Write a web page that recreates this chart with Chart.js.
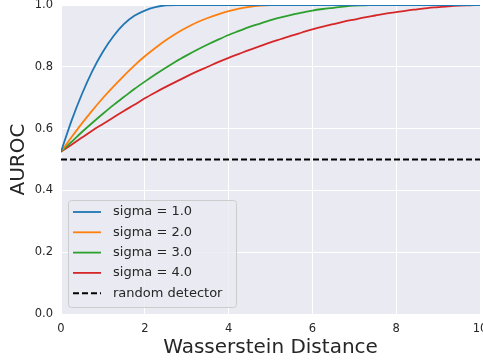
<!DOCTYPE html>
<html>
<head>
  <meta charset="utf-8">
  <title>AUROC vs Wasserstein Distance</title>
  <script src="https://cdn.jsdelivr.net/npm/chart.js"></script>
  <style>
    body {
      margin: 0;
      padding: 0;
      background-color: #fff;
      font-family: "DejaVu Sans", sans-serif;
    }
    .chart-container {
      width: 483px;
      height: 364px;
    }
  </style>
</head>
<body>
  <div class="chart-container">
    <canvas id="aurocChart"></canvas>
  </div>

  <script>
    // ----- Data -----
    const distances = [0, 0.25, 0.5, 0.75, 1, 1.25, 1.5, 1.75, 2, 2.25, 2.5, 2.75, 3, 3.25, 3.5, 3.75,
      4, 4.25, 4.5, 4.75, 5, 5.25, 5.5, 5.75, 6, 6.25, 6.5, 6.75, 7, 7.25, 7.5, 7.75,
      8, 8.25, 8.5, 8.75, 9, 9.25, 9.5, 9.75, 10];

    const sigma1 = [0.525, 0.625, 0.712, 0.787, 0.849, 0.899, 0.938, 0.965, 0.982, 0.993, 0.999, 1, 1, 1, 1, 1,
      1, 1, 1, 1, 1, 1, 1, 1, 1, 1, 1, 1, 1, 1, 1, 1,
      1, 1, 1, 1, 1, 1, 1, 1, 1];
    const sigma2 = [0.525, 0.572, 0.617, 0.659, 0.699, 0.736, 0.771, 0.804, 0.834, 0.861, 0.886, 0.908, 0.927, 0.944, 0.958, 0.970,
      0.980, 0.988, 0.994, 0.998, 1, 1, 1, 1, 1, 1, 1, 1, 1, 1, 1, 1,
      1, 1, 1, 1, 1, 1, 1, 1, 1];
    const sigma3 = [0.525, 0.557, 0.589, 0.619, 0.648, 0.676, 0.702, 0.728, 0.752, 0.775, 0.797, 0.818, 0.837, 0.855, 0.872, 0.888,
      0.903, 0.916, 0.929, 0.940, 0.951, 0.960, 0.968, 0.975, 0.982, 0.987, 0.991, 0.995, 0.998, 0.999, 1, 1,
      1, 1, 1, 1, 1, 1, 1, 1, 1];
    const sigma4 = [0.525, 0.548, 0.571, 0.594, 0.615, 0.636, 0.657, 0.677, 0.698, 0.717, 0.735, 0.752, 0.769, 0.785, 0.800, 0.815,
      0.829, 0.842, 0.855, 0.867, 0.879, 0.890, 0.901, 0.911, 0.921, 0.930, 0.938, 0.946, 0.953, 0.960, 0.966, 0.972,
      0.977, 0.982, 0.986, 0.990, 0.993, 0.996, 0.998, 0.999, 1];
    const randomLevel = 0.5;

    const seriesLabels = ["sigma = 1.0", "sigma = 2.0", "sigma = 3.0", "sigma = 4.0", "random detector"];
    const seriesColors = ["#1f77b4", "#ff7f0e", "#2ca02c", "#d62728", "#000000"];
    const xTicks = [0, 2, 4, 6, 8, 10];
    const yTicks = [0, 0.2, 0.4, 0.6, 0.8, 1.0];

    const toPoints = (ys) => distances.map((x, i) => ({ x: x, y: ys[i] }));

    // legend drawn inside the plot, lower left, like the original
    const innerLegend = {
      id: "innerLegend",
      afterDatasetsDraw(chart) {
        const ctx = chart.ctx;
        const left = 68, top = 200, w = 168, h = 107;
        ctx.save();
        ctx.fillStyle = "rgba(234,234,242,0.8)";
        ctx.strokeStyle = "#cccccc";
        ctx.lineWidth = 1;
        ctx.beginPath();
        ctx.roundRect(left + 0.5, top + 0.5, w, h, 3);
        ctx.fill();
        ctx.stroke();
        ctx.font = "13px 'DejaVu Sans'";
        ctx.textBaseline = "middle";
        chart.data.datasets.forEach((ds, i) => {
          const y = 212 + i * 20.3;
          ctx.strokeStyle = ds.borderColor;
          ctx.lineWidth = ds.borderWidth;
          ctx.setLineDash(ds.borderDash || []);
          ctx.beginPath();
          ctx.moveTo(73, y);
          ctx.lineTo(101, y);
          ctx.stroke();
          ctx.setLineDash([]);
          ctx.fillStyle = "#262626";
          ctx.fillText(ds.label, 113, y);
        });
        ctx.restore();
      }
    };

    const plotBackground = {
      id: "plotBackground",
      beforeDraw(chart) {
        const a = chart.chartArea;
        chart.ctx.save();
        chart.ctx.fillStyle = "#eaeaf2";
        chart.ctx.fillRect(a.left, a.top, a.right - a.left, a.bottom - a.top);
        chart.ctx.restore();
      }
    };

    const datasets = [sigma1, sigma2, sigma3, sigma4].map((ys, i) => ({
      label: seriesLabels[i],
      data: toPoints(ys),
      borderColor: seriesColors[i],
      borderWidth: 1.8,
      pointRadius: 0,
      cubicInterpolationMode: "monotone",
      fill: false
    }));
    datasets.push({
      label: seriesLabels[4],
      data: [{ x: 0, y: randomLevel }, { x: 10, y: randomLevel }],
      borderColor: seriesColors[4],
      borderWidth: 2,
      borderDash: [6, 3],
      pointRadius: 0,
      fill: false
    });

    const ctxAuroc = document.getElementById("aurocChart").getContext("2d");
    new Chart(ctxAuroc, {
      type: "line",
      data: { datasets: datasets },
      options: {
        responsive: true,
        maintainAspectRatio: false,
        animation: false,
        layout: { padding: { top: 5, right: 3, left: 0, bottom: 0 } },
        scales: {
          x: {
            type: "linear",
            min: 0,
            max: 10,
            afterBuildTicks: (s) => { s.ticks = xTicks.map(v => ({ value: v })); },
            afterFit: (s) => { s.height = 50; s.paddingLeft = 0; s.paddingRight = 0; },
            grid: { color: "#ffffff", lineWidth: 1, drawTicks: false },
            border: { display: false },
            ticks: {
              color: "#262626",
              font: { family: "DejaVu Sans", size: 11.5 },
              padding: 8,
              maxRotation: 0
            },
            title: {
              display: true,
              text: "Wasserstein Distance",
              color: "#262626",
              font: { family: "DejaVu Sans", size: 20 },
              padding: { top: 0, bottom: 4 }
            }
          },
          y: {
            min: 0,
            max: 1,
            afterBuildTicks: (s) => { s.ticks = yTicks.map(v => ({ value: v })); },
            afterFit: (s) => { s.width = 61; s.paddingTop = 0; s.paddingBottom = 0; },
            grid: { color: "#ffffff", lineWidth: 1, drawTicks: false },
            border: { display: false },
            ticks: {
              color: "#262626",
              font: { family: "DejaVu Sans", size: 11.5 },
              padding: 8,
              callback: (v) => v.toFixed(1)
            },
            title: {
              display: true,
              text: "AUROC",
              color: "#262626",
              font: { family: "DejaVu Sans", size: 20 },
              padding: { top: 7, bottom: 0 }
            }
          }
        },
        plugins: {
          legend: { display: false },
          tooltip: { enabled: false }
        }
      },
      plugins: [plotBackground, innerLegend]
    });
  </script>
</body>
</html>
